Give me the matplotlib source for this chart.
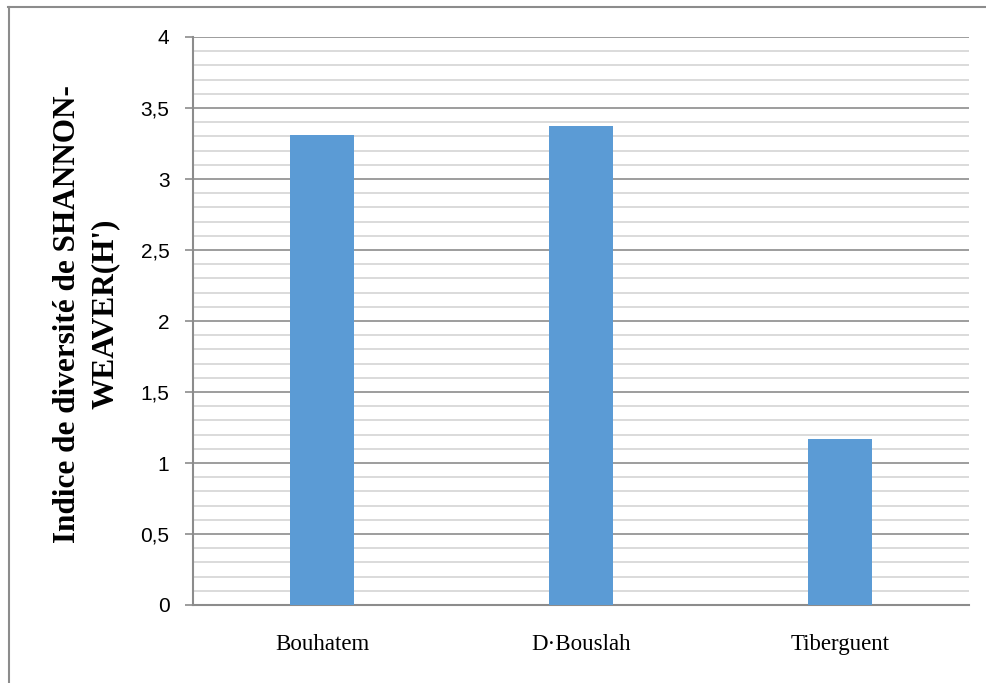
import matplotlib
matplotlib.use("Agg")
import matplotlib.pyplot as plt
from matplotlib.lines import Line2D
from matplotlib.ticker import MultipleLocator, FuncFormatter

# Shannon-Weaver diversity index per station
stations = ["Bouhatem", "D\u00b7Bouslah", "Tiberguent"]
shannon_h = [3.31, 3.37, 1.17]
y_ticks = [0, 0.5, 1, 1.5, 2, 2.5, 3, 3.5, 4]

W, H = 987, 683
fig = plt.figure(figsize=(W / 100, H / 100), dpi=100)
fig.patch.set_facecolor("white")

ax = fig.add_axes([193 / W, 1 - 605 / H, (969 - 193) / W, (605 - 37) / H])

x = range(len(stations))
ax.bar(x, shannon_h, width=0.247, color="#5B9BD5", zorder=3)

ax.set_xlim(-0.5, len(stations) - 0.5)
ax.set_ylim(0, 4)
ax.set_yticks(y_ticks)
ax.yaxis.set_minor_locator(MultipleLocator(0.1))
ax.yaxis.set_major_formatter(
    FuncFormatter(lambda v, _: ("%g" % v).replace(".", ","))
)

ax.grid(which="major", axis="y", color="#8c8c8c", linewidth=1.2, zorder=0)
ax.grid(which="minor", axis="y", color="#d4d4d4", linewidth=1.2, zorder=0)

for side in ("top", "right"):
    ax.spines[side].set_visible(False)
for side in ("left", "bottom"):
    ax.spines[side].set_color("#8c8c8c")
    ax.spines[side].set_linewidth(1.5)

ax.tick_params(axis="y", which="major", length=6, width=1.2, color="#8c8c8c",
               pad=11, labelsize=15, labelcolor="black")
ax.tick_params(axis="y", which="minor", length=0)
for lbl in ax.get_yticklabels():
    lbl.set_fontfamily("Liberation Sans")

ax.set_xticks(list(x))
ax.set_xticklabels(stations, fontfamily="Liberation Serif", fontsize=16.5)
ax.tick_params(axis="x", length=0, pad=21)

ax.set_ylabel("Indice de diversité de SHANNON-\nWEAVER(H')",
              fontfamily="Liberation Serif", fontweight="bold", fontsize=22.5,
              linespacing=1.4)
ax.yaxis.set_label_coords(-0.094, 0.513)

# frame lines along the top and left edges
fig.add_artist(Line2D([8 / W, 1], [1 - 7 / H, 1 - 7 / H],
                      transform=fig.transFigure, color="#8c8c8c", linewidth=1.5))
fig.add_artist(Line2D([9 / W, 9 / W], [0, 1 - 7 / H],
                      transform=fig.transFigure, color="#8c8c8c", linewidth=1.5))

fig.savefig("out.png", dpi=100)
